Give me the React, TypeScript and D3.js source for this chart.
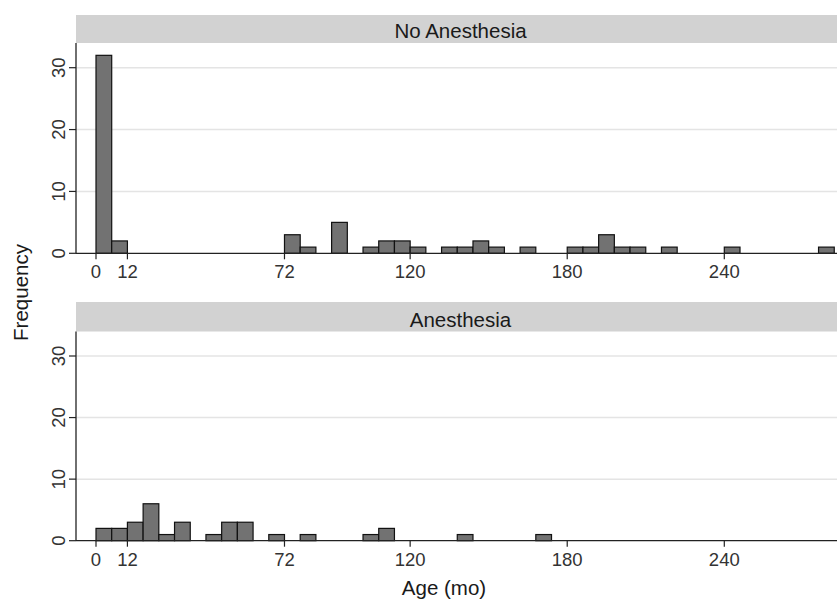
import React from "react";
import * as d3 from "d3";

const binWidth = 6;
const panelTitles = ["No Anesthesia", "Anesthesia"];
// bin start (months) and frequency
const noAnesStarts = [0, 6, 72, 78, 90, 102, 108, 114, 120, 132, 138, 144, 150, 162, 180, 186, 192, 198, 204, 216, 240, 276];
const noAnesCounts = [32, 2, 3, 1, 5, 1, 2, 2, 1, 1, 1, 2, 1, 1, 1, 1, 3, 1, 1, 1, 1, 1];
const anesStarts = [0, 6, 12, 18, 24, 30, 42, 48, 54, 66, 78, 102, 108, 138, 168];
const anesCounts = [2, 2, 3, 6, 1, 3, 1, 3, 3, 1, 1, 1, 2, 1, 1];
const xTicks = [0, 12, 72, 120, 180, 240];
const yTicks = [0, 10, 20, 30];
const xLabel = "Age (mo)";
const yLabel = "Frequency";

const W = 837;
const H = 602;
const FONT = "'Liberation Sans', Arial, sans-serif";

const x = d3.scaleLinear().domain([0, 240]).range([96, 724.3]);
const plotLeft = 76;
const plotRight = 837;
const stripRight = 845;

type PanelProps = {
  title: string;
  starts: number[];
  counts: number[];
  stripTop: number;
  stripBottom: number;
  y0: number;
  y30: number;
};

function Panel({ title, starts, counts, stripTop, stripBottom, y0, y30 }: PanelProps) {
  const y = d3.scaleLinear().domain([0, 30]).range([y0, y30]);
  return (
    <g>
      <rect x={plotLeft} y={stripTop} width={stripRight - plotLeft} height={stripBottom - stripTop} fill="#d2d2d2" />
      <text x={(plotLeft + stripRight) / 2} y={stripBottom - 5} textAnchor="middle" fontSize={20.5} fontFamily={FONT} fill="#1a1a1a">
        {title}
      </text>
      {yTicks.filter((t) => t > 0).map((t) => (
        <line key={"g" + t} x1={plotLeft} x2={plotRight} y1={y(t)} y2={y(t)} stroke="#e4e4e4" strokeWidth={1.5} />
      ))}
      {starts.map((s, i) => (
        <rect
          key={i}
          x={x(s)}
          y={y(counts[i])}
          width={x(s + binWidth) - x(s)}
          height={y(0) - y(counts[i])}
          fill="#727272"
          stroke="#111"
          strokeWidth={1.2}
        />
      ))}
      <line x1={plotLeft} x2={plotLeft} y1={stripBottom} y2={y0} stroke="#222" strokeWidth={1.3} />
      <line x1={plotLeft} x2={plotRight} y1={y0} y2={y0} stroke="#222" strokeWidth={1.3} />
      {yTicks.map((t) => (
        <g key={"y" + t}>
          <line x1={plotLeft - 7} x2={plotLeft} y1={y(t)} y2={y(t)} stroke="#222" strokeWidth={1.2} />
          <text
            transform={`translate(${plotLeft - 11},${y(t)}) rotate(-90)`}
            textAnchor="middle"
            fontSize={18.5}
            fontFamily={FONT}
            fill="#333"
          >
            {t}
          </text>
        </g>
      ))}
      {xTicks.map((t) => (
        <g key={"x" + t}>
          <line x1={x(t)} x2={x(t)} y1={y0} y2={y0 + 6} stroke="#222" strokeWidth={1.2} />
          <text x={x(t)} y={y0 + 25} textAnchor="middle" fontSize={18.5} fontFamily={FONT} fill="#333">
            {t}
          </text>
        </g>
      ))}
    </g>
  );
}

export default function App() {
  return (
    <svg width={W} height={H} style={{ position: "absolute", left: 0, top: 0, background: "#fff" }}>
      <rect x={0} y={0} width={W} height={H} fill="#fff" />
      <Panel title={panelTitles[0]} starts={noAnesStarts} counts={noAnesCounts} stripTop={15} stripBottom={43} y0={253.3} y30={67.7} />
      <Panel title={panelTitles[1]} starts={anesStarts} counts={anesCounts} stripTop={302} stripBottom={331.5} y0={540.7} y30={356} />
      <text transform={`translate(28,292.5) rotate(-90)`} textAnchor="middle" fontSize={20.5} fontFamily={FONT} fill="#1a1a1a">
        {yLabel}
      </text>
      <text x={444} y={595} textAnchor="middle" fontSize={20.5} fontFamily={FONT} fill="#1a1a1a">
        {xLabel}
      </text>
    </svg>
  );
}
